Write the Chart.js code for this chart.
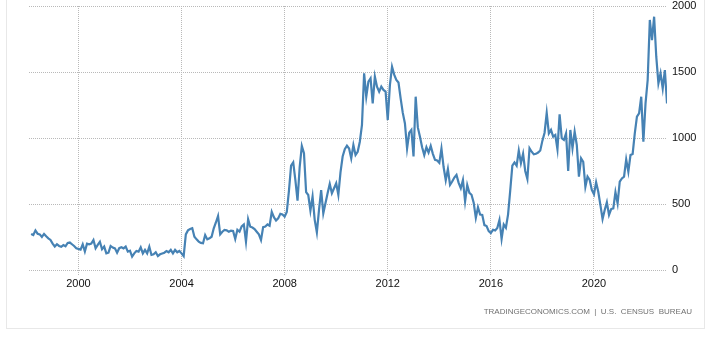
<!DOCTYPE html>
<html><head><meta charset="utf-8">
<script src="https://cdn.jsdelivr.net/npm/chart.js@4/dist/chart.umd.min.js"></script>
<style>
html,body{margin:0;padding:0;background:#fff;}
#wrap{position:relative;width:714px;height:348px;overflow:hidden;}
#frame{position:absolute;left:6px;top:-2px;width:697px;height:329px;border:1px solid #e8e8e8;pointer-events:none;}
#src{position:absolute;right:22px;top:307px;font:8px "Liberation Sans",Arial,sans-serif;color:#707070;white-space:pre;line-height:10px;}
</style></head><body>
<div id="wrap"><canvas id="c" width="714" height="348"></canvas><div id="frame"></div><div id="src">TRADINGECONOMICS.COM  |  U.S.  CENSUS  BUREAU</div></div>
<script>
const startYear = 1998, startMonth = 3;
const values = [
  273, 265, 300, 275, 270, 250, 273, 255, 240, 228,                 // 1998 Mar-Dec
  200, 178, 195, 182, 176, 189, 180, 205, 208, 195, 182, 165,       // 1999
  160, 155, 195, 140, 200, 195, 200, 227, 164, 190, 214, 157,       // 2000
  177, 126, 131, 182, 170, 164, 131, 165, 172, 164, 177, 139,       // 2001
  146, 101, 126, 144, 139, 172, 126, 152, 126, 177, 114, 119,       // 2002
  134, 106, 119, 125, 131, 144, 134, 152, 126, 152, 134, 144,       // 2003
  126, 105, 270, 300, 310, 316, 252, 232, 215, 205, 202, 265,       // 2004
  232, 240, 252, 316, 360, 409, 270, 290, 303, 300, 290, 298,       // 2005
  295, 235, 305, 290, 330, 345, 215, 385, 328, 322, 310, 290,       // 2006
  270, 227, 325, 330, 345, 335, 440, 400, 375, 391, 425, 420,       // 2007
  404, 440, 600, 790, 815, 680, 525, 780, 940, 885, 590, 568,       // 2008
  450, 556, 380, 285, 455, 606, 429, 505, 581, 652, 581, 619,       // 2009
  657, 570, 740, 860, 915, 942, 920, 846, 947, 871, 896, 972,       // 2010
  1100, 1490, 1313, 1427, 1452, 1262, 1465, 1389, 1351, 1389, 1364, 1351, // 2011
  1136, 1400, 1540, 1480, 1440, 1420, 1300, 1190, 1110, 920, 1040, 1061,  // 2012
  860, 1313, 1080, 1010, 930, 870, 930, 890, 940, 880, 835, 830,    // 2013
  812, 920, 780, 680, 765, 645, 670, 700, 720, 660, 620, 682,       // 2014
  520, 644, 585, 570, 510, 395, 475, 420, 417, 340, 333, 295,       // 2015
  280, 305, 300, 318, 379, 235, 345, 320, 420, 600, 790, 815,       // 2016
  790, 905, 810, 880, 750, 690, 922, 896, 876, 880, 890, 905,       // 2017
  980, 1040, 1190, 1035, 1061, 1010, 1023, 914, 1180, 998, 985, 1035,     // 2018
  750, 1061, 922, 1048, 947, 707, 846, 820, 631, 707, 682, 606,     // 2019
  573, 664, 593, 492, 386, 455, 513, 417, 462, 467, 590, 505,       // 2020
  669, 694, 707, 838, 745, 871, 879, 1035, 1162, 1187, 1313, 972,   // 2021
  1262, 1439, 1894, 1742, 1919, 1616, 1414, 1490, 1376, 1515, 1262        // 2022 Jan-Nov
];
const xTickYears = [2000, 2004, 2008, 2012, 2016, 2020];
const yTicks = [0, 500, 1000, 1500, 2000];

const points = values.map((v, i) => ({ x: startYear + (startMonth - 1 + i) / 12, y: v }));
const gridColor = '#b9b9b9';
const tickFont = { family: 'Liberation Sans', size: 11 };

new Chart(document.getElementById('c').getContext('2d'), {
  type: 'line',
  data: { datasets: [{ data: points, borderColor: '#4682b4', borderWidth: 2.2, pointRadius: 0, tension: 0, fill: false }] },
  options: {
    responsive: false, animation: false,
    layout: { padding: { left: 29, top: 6, right: 0, bottom: 0 } },
    plugins: { legend: { display: false }, tooltip: { enabled: false } },
    scales: {
      x: {
        type: 'linear', min: 1998.083, max: 2022.833,
        afterBuildTicks: s => { s.ticks = xTickYears.map(v => ({ value: v })); },
        afterFit: s => { s.height = 78; s.paddingLeft = 0; s.paddingRight = 0; },
        grid: { color: gridColor, tickLength: 5, tickColor: gridColor, tickBorderDash: [1, 1] },
        border: { display: false, dash: [1, 1] },
        ticks: { color: '#111', font: tickFont, padding: 2, maxRotation: 0, autoSkip: false, callback: v => String(v) }
      },
      y: {
        position: 'right', min: 0, max: 2000,
        afterBuildTicks: s => { s.ticks = yTicks.map(v => ({ value: v })); },
        afterFit: s => { s.width = 47; s.paddingTop = 0; s.paddingBottom = 0; },
        grid: { color: gridColor, drawTicks: false },
        border: { display: false, dash: [1, 1] },
        ticks: { color: '#111', font: tickFont, padding: 5, callback: v => String(v) }
      }
    }
  }
});
</script>
</body></html>
